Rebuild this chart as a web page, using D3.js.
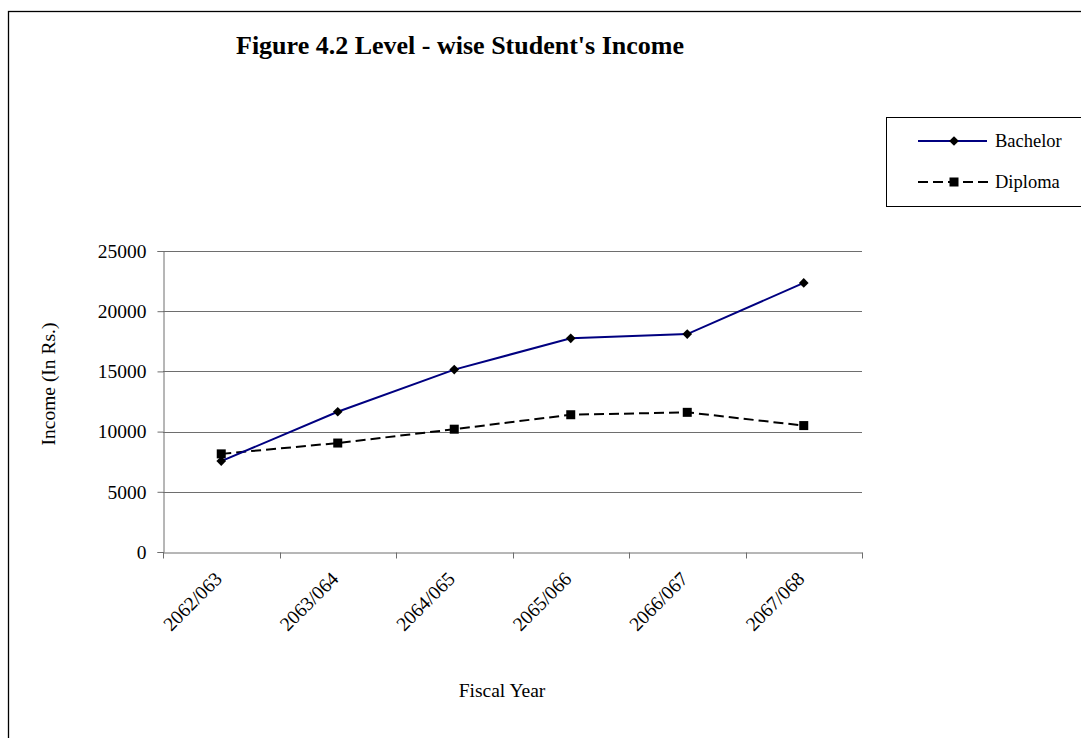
<!DOCTYPE html>
<html>
<head>
<meta charset="utf-8">
<script src="https://cdn.jsdelivr.net/npm/d3@7"></script>
<style>
  body { margin: 0; background: #fff; }
  svg text { font-family: "Liberation Serif", "Times New Roman", serif; fill: #000; }
</style>
</head>
<body>
<div id="chart"></div>
<script>
const years = ['2062/063', '2063/064', '2064/065', '2065/066', '2066/067', '2067/068'];
const bachelor = [7550, 11650, 15150, 17750, 18100, 22350];
const diploma = [8150, 9050, 10200, 11400, 11600, 10500];
const yTicks = [0, 5000, 10000, 15000, 20000, 25000];

const width = 1081
const height = 738
const plot = { left: 163, right: 862, top: 251, bottom: 552 };
const axisFont = '19.5px';

const svg = d3.select('#chart')
  .append('svg')
  .attr('width', width)
  .attr('height', height);

// outer frame of the chart object
svg.append('rect')
  .attr('x', 8.5).attr('y', 11.5)
  .attr('width', 1200).attr('height', 900)
  .attr('fill', 'none').attr('stroke', '#000').attr('stroke-width', 1.3);

const xScale = d3.scaleBand().domain(years).range([plot.left, plot.right]);
const yScale = d3.scaleLinear().domain([0, 25000]).range([plot.bottom, plot.top]);

// gridlines
svg.append('g')
  .selectAll('line')
  .data(yTicks.slice(1))
  .enter()
  .append('line')
  .attr('x1', plot.left).attr('x2', plot.right)
  .attr('y1', d => Math.round(yScale(d)) + 0.5)
  .attr('y2', d => Math.round(yScale(d)) + 0.5)
  .attr('stroke', '#6e6e6e').attr('stroke-width', 1);

// y axis
const yAxis = svg.append('g')
  .attr('transform', `translate(${plot.left + 0.5},0)`)
  .attr('font-size', null).attr('font-family', null)
  .call(d3.axisLeft(yScale).tickValues(yTicks).tickFormat(d3.format('d')).tickSize(6).tickPadding(11));
yAxis.attr('font-size', axisFont).attr('font-family', '"Liberation Serif", serif');
yAxis.selectAll('text').style('font-size', axisFont);

// x axis, ticks between categories
const xAxis = svg.append('g')
  .attr('transform', `translate(0,${plot.bottom + 0.5})`)
  .call(d3.axisBottom(xScale).tickSize(0).tickFormat(''));
xAxis.selectAll('.tick').remove();
xAxis.selectAll('.edge')
  .data(years.map(d => xScale(d)).concat([plot.right]))
  .enter()
  .append('line')
  .classed('edge', true)
  .attr('x1', d => Math.round(d) + 0.5).attr('x2', d => Math.round(d) + 0.5)
  .attr('y1', 0).attr('y2', 6)
  .attr('stroke', '#6e6e6e');

svg.selectAll('.domain').attr('stroke', '#6e6e6e');
svg.selectAll('.tick line').attr('stroke', '#6e6e6e');

// rotated category labels
svg.append('g')
  .selectAll('text')
  .data(years)
  .enter()
  .append('text')
  .attr('transform', d => `translate(${xScale(d) + xScale.bandwidth() / 2 + 2},580) rotate(-45)`)
  .attr('text-anchor', 'end')
  .style('font-size', axisFont)
  .text(d => d);

const cx = d => xScale(d) + xScale.bandwidth() / 2;
const line = d3.line().x((v, i) => cx(years[i])).y(v => yScale(v));

// Diploma
svg.append('path')
  .datum(diploma)
  .attr('d', line)
  .attr('fill', 'none')
  .attr('stroke', '#000')
  .attr('stroke-width', 2)
  .attr('stroke-dasharray', '10,5');
svg.selectAll('.sq')
  .data(diploma)
  .enter()
  .append('rect')
  .classed('sq', true)
  .attr('x', (v, i) => cx(years[i]) - 4.5)
  .attr('y', v => yScale(v) - 4.5)
  .attr('width', 9).attr('height', 9)
  .attr('fill', '#000');

// Bachelor
svg.append('path')
  .datum(bachelor)
  .attr('d', line)
  .attr('fill', 'none')
  .attr('stroke', '#000080')
  .attr('stroke-width', 2);
const diamond = d3.symbol().type(d3.symbolDiamond2).size(60);
svg.selectAll('.dm')
  .data(bachelor)
  .enter()
  .append('path')
  .classed('dm', true)
  .attr('d', diamond)
  .attr('transform', (v, i) => `translate(${cx(years[i])},${yScale(v)})`)
  .attr('fill', '#000');

// title
svg.append('text')
  .attr('x', 236).attr('y', 54)
  .style('font-size', '26px')
  .style('font-weight', 'bold')
  .text("Figure 4.2 Level - wise Student's Income");

// axis titles
svg.append('text')
  .attr('transform', 'translate(55,384) rotate(-90)')
  .attr('text-anchor', 'middle')
  .style('font-size', axisFont)
  .text('Income (In Rs.)');
svg.append('text')
  .attr('x', 502).attr('y', 697)
  .attr('text-anchor', 'middle')
  .style('font-size', axisFont)
  .text('Fiscal Year');

// legend
const legend = svg.append('g');
legend.append('rect')
  .attr('x', 886.5).attr('y', 117.5)
  .attr('width', 300).attr('height', 89)
  .attr('fill', '#fff').attr('stroke', '#000').attr('stroke-width', 1);
legend.append('line')
  .attr('x1', 918).attr('x2', 987).attr('y1', 141).attr('y2', 141)
  .attr('stroke', '#000080').attr('stroke-width', 2);
legend.append('path')
  .attr('d', diamond)
  .attr('transform', 'translate(954,141)')
  .attr('fill', '#000');
legend.append('text').attr('x', 995).attr('y', 147).style('font-size', '18.5px').text('Bachelor');
legend.append('line')
  .attr('x1', 918).attr('x2', 990).attr('y1', 182).attr('y2', 182)
  .attr('stroke', '#000').attr('stroke-width', 2)
  .attr('stroke-dasharray', '10,5');
legend.append('rect')
  .attr('x', 949.5).attr('y', 177.5).attr('width', 9).attr('height', 9)
  .attr('fill', '#000');
legend.append('text').attr('x', 995).attr('y', 188).style('font-size', '18.5px').text('Diploma');
</script>
</body>
</html>
